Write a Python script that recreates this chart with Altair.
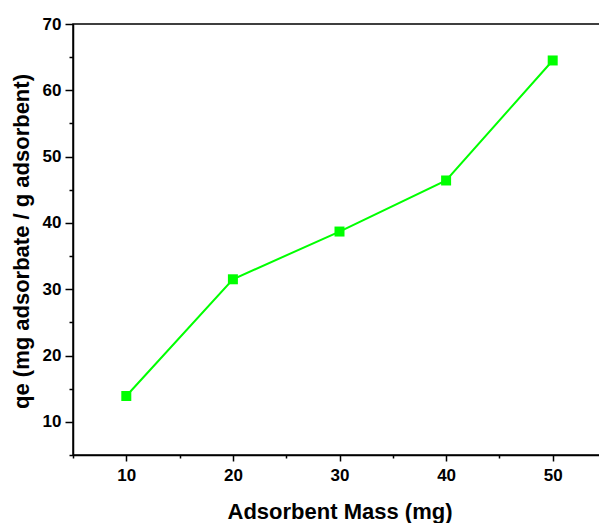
import altair as alt
import pandas as pd

mass = [10, 20, 30, 40, 50]
qe = [13.9, 31.5, 38.7, 46.4, 64.5]

x_major = [10, 20, 30, 40, 50]
x_minor = [5, 15, 25, 35, 45, 55]
y_major = [10, 20, 30, 40, 50, 60, 70]
y_minor = [5, 15, 25, 35, 45, 55, 65]

df = pd.DataFrame({"mass": mass, "qe": qe})

FONT = "Liberation Sans"
GREEN = "#00ff00"

xs = alt.Scale(domain=[5, 55], nice=False, zero=False)
ys = alt.Scale(domain=[5, 70], nice=False, zero=False)

common = dict(domainColor="black", domainWidth=1.5, tickColor="black", tickWidth=1.5,
              grid=False, labelFont=FONT, labelFontWeight="bold", labelFontSize=17,
              labelColor="black", titleFont=FONT, titleFontWeight="bold",
              titleFontSize=22, titleColor="black")

line = alt.Chart(df).mark_line(color=GREEN, strokeWidth=2).encode(
    x=alt.X("mass:Q", scale=xs, axis=alt.Axis(
        values=x_major, orient="bottom", tickSize=6, labelPadding=6,
        title="Adsorbent Mass (mg)", titleY=63, titleBaseline="alphabetic", **common)),
    y=alt.Y("qe:Q", scale=ys, axis=alt.Axis(
        values=y_major, orient="left", tickSize=8, labelPadding=4,
        title="qe (mg adsorbate / g adsorbent)", titleX=-45, titleY=217,
        titleBaseline="alphabetic", titleAngle=-90, **common)),
)

pts = alt.Chart(df).mark_square(color=GREEN, size=100, opacity=1).encode(
    x=alt.X("mass:Q", scale=xs, axis=alt.Axis(
        values=x_minor, orient="bottom", tickSize=3, labels=False, domain=False,
        title=None, grid=False, tickColor="black", tickWidth=1.5)),
    y=alt.Y("qe:Q", scale=ys, axis=alt.Axis(
        values=y_minor, orient="left", tickSize=4, labels=False, domain=False,
        title=None, grid=False, tickColor="black", tickWidth=1.5)),
)

chart = alt.layer(line, pts).resolve_axis(x="independent", y="independent").properties(
    width=533, height=431,
    autosize=alt.AutoSizeParams(type="none"),
    padding={"left": 73, "top": 24, "right": -7, "bottom": 68},
    background="white",
).configure_view(stroke="black", strokeWidth=1.5)

chart.save("out.html", embed_options={"renderer": "svg", "actions": False})
